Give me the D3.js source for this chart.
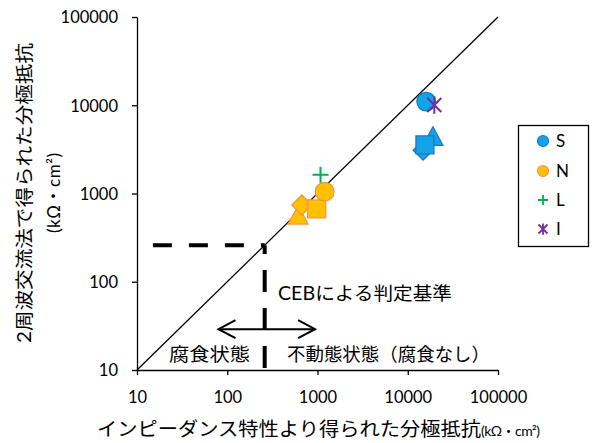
<!DOCTYPE html>
<html>
<head>
<meta charset="utf-8">
<script src="https://cdn.jsdelivr.net/npm/d3@7"></script>
<style>
  html, body { margin: 0; padding: 0; background: #fff; }
  svg { display: block; }
  text { font-family: Lato, "Noto Sans CJK JP", sans-serif; fill: #000; }
</style>
</head>
<body>
<div id="chart"></div>
<script>
// Axis ticks (kΩ·cm²), both axes log scale
const tickValues = [10, 100, 1000, 10000, 100000];
const tickLabels = ["10", "100", "1000", "10000", "100000"];

// Series names and colours for the legend
const seriesNames = ["S", "N", "L", "I"];
const seriesFill = ["#12a4e8", "#ffc000", "#00b050", "#7030a0"];
const seriesStroke = ["#1c78c4", "#f5963f", "#00b050", "#7030a0"];

// S: impedance Rp, two-frequency Rp, marker shape
const sX = [16000, 15500, 19000, 14800];
const sY = [11000, 3550, 4450, 3100];
const sShape = ["circle", "square", "triangle", "diamond"];

// N
const nX = [1200, 980, 610, 670];
const nY = [1050, 670, 570, 740];
const nShape = ["circle", "square", "triangle", "diamond"];

// L
const lX = [1080];
const lY = [1630];

// I
const iX = [19700];
const iY = [10070];

// CEB criterion and annotation extents
const cebThreshold = 260;
const dashStartX = 15;
const arrowY = 29;
const arrowLeft = 80;
const arrowRight = 940;

const W = 595, H = 443;
const svg = d3.select("#chart").append("svg")
  .attr("width", W).attr("height", H);

const x = d3.scaleLog().domain([10, 100000]).range([137, 498]);
const y = d3.scaleLog().domain([10, 100000]).range([370, 17]);

// Axes
const xAxis = d3.axisBottom(x).tickValues(tickValues)
  .tickFormat((d, i) => tickLabels[i]).tickSizeOuter(0).tickSizeInner(5);
const yAxis = d3.axisLeft(y).tickValues(tickValues)
  .tickFormat((d, i) => tickLabels[i]).tickSizeOuter(0).tickSizeInner(5);

const gx = svg.append("g").attr("transform", `translate(0,${y(10)})`).call(xAxis);
const gy = svg.append("g").attr("transform", `translate(${x(10)},0)`).call(yAxis);
[gx, gy].forEach(g => {
  g.select(".domain").attr("stroke", "#000").attr("stroke-width", 1.3);
  g.selectAll(".tick line").attr("stroke", "#000").attr("stroke-width", 1.3);
  g.selectAll(".tick text").attr("font-size", 16.5).attr("font-family", "Lato, sans-serif").attr("fill", "#000");
});
gx.selectAll(".tick text").attr("y", 0).attr("dy", 0).attr("transform", "translate(0,33)");
gy.selectAll(".tick text").attr("x", -19).attr("dy", "0.36em");

// 1:1 line
svg.append("line")
  .attr("x1", x(10)).attr("y1", y(10))
  .attr("x2", x(100000)).attr("y2", y(100000))
  .attr("stroke", "#000").attr("stroke-width", 1.3);

// CEB threshold dashes
svg.append("line")
  .attr("x1", x(dashStartX)).attr("y1", y(cebThreshold))
  .attr("x2", x(cebThreshold)).attr("y2", y(cebThreshold))
  .attr("stroke", "#000").attr("stroke-width", 4)
  .attr("stroke-dasharray", "19,17");
svg.append("line")
  .attr("x1", x(cebThreshold)).attr("y1", y(10) - 2)
  .attr("x2", x(cebThreshold)).attr("y2", y(cebThreshold))
  .attr("stroke", "#000").attr("stroke-width", 4)
  .attr("stroke-dasharray", "22,16");

// Double-headed arrow
const ay = y(arrowY), ax1 = x(arrowLeft), ax2 = x(arrowRight);
svg.append("line").attr("x1", ax1).attr("y1", ay).attr("x2", ax2).attr("y2", ay)
  .attr("stroke", "#000").attr("stroke-width", 2);
svg.append("path")
  .attr("d", `M${ax1 + 17},${ay - 9} L${ax1},${ay} L${ax1 + 17},${ay + 9}
              M${ax2 - 17},${ay - 9} L${ax2},${ay} L${ax2 - 17},${ay + 9}`)
  .attr("fill", "none").attr("stroke", "#000").attr("stroke-width", 2);

// Annotation texts
svg.append("text").attr("x", 278).attr("y", 300)
  .attr("font-size", 18.5).attr("textLength", 174).attr("lengthAdjust", "spacingAndGlyphs")
  .text("CEBによる判定基準");
svg.append("text").attr("x", 169).attr("y", 361)
  .attr("font-size", 18.5).attr("textLength", 81).attr("lengthAdjust", "spacingAndGlyphs")
  .text("腐食状態");
svg.append("text").attr("x", 287).attr("y", 361)
  .attr("font-size", 18.5).attr("textLength", 203).attr("lengthAdjust", "spacingAndGlyphs")
  .text("不動態状態（腐食なし）");

// Axis titles
svg.append("text").attr("x", 97).attr("y", 436).attr("font-size", 19)
  .attr("textLength", 384).attr("lengthAdjust", "spacingAndGlyphs")
  .text("インピーダンス特性より得られた分極抵抗");
svg.append("text").attr("x", 481).attr("y", 436).attr("font-size", 14)
  .attr("textLength", 59).attr("lengthAdjust", "spacing")
  .text("(kΩ・cm²)");

svg.append("text")
  .attr("transform", "translate(31,193) rotate(-90)")
  .attr("text-anchor", "middle").attr("font-size", 18.5)
  .attr("textLength", 300).attr("lengthAdjust", "spacingAndGlyphs")
  .text("2周波交流法で得られた分極抵抗");
svg.append("text")
  .attr("transform", "translate(60,153) rotate(-90)")
  .attr("text-anchor", "end").attr("font-size", 17)
  .attr("textLength", 80).attr("lengthAdjust", "spacing")
  .text("(kΩ・cm²)");

// Marker drawing
function shapePath(shape, cx, cy) {
  if (shape === "square") {
    const s = 9;
    return `M${cx - s},${cy - s}H${cx + s}V${cy + s}H${cx - s}Z`;
  }
  if (shape === "triangle") {
    return `M${cx},${cy - 9.5}L${cx + 10},${cy + 9}L${cx - 10},${cy + 9}Z`;
  }
  if (shape === "diamond") {
    const s = 10;
    return `M${cx},${cy - s}L${cx + s},${cy}L${cx},${cy + s}L${cx - s},${cy}Z`;
  }
  return null;
}

const drawOrder = ["triangle", "diamond", "square", "circle"];
function drawShapes(xs, ys, shapes, si) {
  drawOrder.forEach(shape => {
    xs.forEach((xv, i) => {
      if (shapes[i] !== shape) return;
      const cx = x(xv), cy = y(ys[i]);
      if (shape === "circle") {
        svg.append("circle").attr("cx", cx).attr("cy", cy).attr("r", 9.3)
          .attr("fill", seriesFill[si]).attr("stroke", seriesStroke[si]).attr("stroke-width", 1.3);
      } else {
        svg.append("path").attr("d", shapePath(shape, cx, cy))
          .attr("fill", seriesFill[si]).attr("stroke", seriesStroke[si])
          .attr("stroke-width", 1.3).attr("stroke-linejoin", "miter");
      }
    });
  });
}
drawShapes(sX, sY, sShape, 0);
drawShapes(nX, nY, nShape, 1);

function drawPlus(cx, cy, s, color, w) {
  svg.append("path").attr("d", `M${cx - s},${cy}H${cx + s}M${cx},${cy - s}V${cy + s}`)
    .attr("stroke", color).attr("stroke-width", w).attr("fill", "none");
}
function drawStar(cx, cy, s, color, w) {
  svg.append("path")
    .attr("d", `M${cx - s},${cy - s}L${cx + s},${cy + s}M${cx + s},${cy - s}L${cx - s},${cy + s}M${cx},${cy - s * 1.25}V${cy + s * 1.25}`)
    .attr("stroke", color).attr("stroke-width", w).attr("fill", "none");
}
lX.forEach((xv, i) => drawPlus(x(xv), y(lY[i]), 8, seriesFill[2], 2));
iX.forEach((xv, i) => drawStar(x(xv), y(iY[i]), 7, seriesFill[3], 2));

// Legend
const lg = svg.append("g");
lg.append("rect").attr("x", 518.5).attr("y", 125.5).attr("width", 70).attr("height", 121)
  .attr("fill", "#fff").attr("stroke", "#000").attr("stroke-width", 1.3);
const legendY = [141, 171, 200, 229];
seriesNames.forEach((name, i) => {
  const ly = legendY[i], lx = 543;
  if (i < 2) {
    lg.append("circle").attr("cx", lx).attr("cy", ly).attr("r", 5.5)
      .attr("fill", seriesFill[i]).attr("stroke", seriesStroke[i]).attr("stroke-width", 1.2);
  } else if (i === 2) {
    drawPlus(lx, ly, 5, seriesFill[2], 1.8);
  } else {
    drawStar(lx, ly, 4.5, seriesFill[3], 1.8);
  }
  lg.append("text").attr("x", 556).attr("y", ly).attr("dy", "0.36em")
    .attr("font-size", 17).text(name);
});
</script>
</body>
</html>
